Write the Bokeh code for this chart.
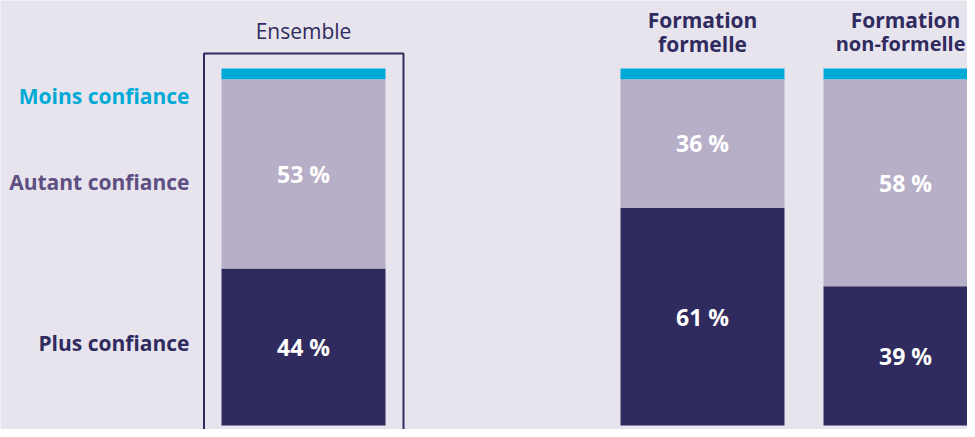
from bokeh.plotting import figure
from bokeh.models import Range1d, ColumnDataSource
from bokeh.core.properties import value
from bokeh.embed import file_html
from bokeh.resources import INLINE

# ---- data ----
groups = ["Ensemble", "Formation formelle", "Formation non-formelle"]
title_line1 = ["Ensemble", "Formation", "Formation"]
title_line2 = ["", "formelle", "non-formelle"]
plus = [44, 61, 39]
autant = [53, 36, 58]
moins = [3, 3, 3]
series_names = ["Plus confiance", "Autant confiance", "Moins confiance"]
label_y = [23.0, 68.3, 92.2]

# ---- style ----
BG = "#e7e4ee"
C_PLUS = "#302b5e"
C_AUTANT = "#b7afc8"
C_MOINS = "#00aad6"
LBL_COLORS = [C_PLUS, "#5e4f82", C_MOINS]
FONT = "Open Sans"

xpos = [303, 702, 905]
bar_w = 164

p = figure(width=967, height=429, output_backend="svg", toolbar_location=None,
           x_range=Range1d(0, 967), y_range=Range1d(-1.12, 119.05),
           min_border=0, border_fill_color=BG, background_fill_color=BG,
           outline_line_color=None)
p.axis.visible = False
p.grid.visible = False

b0 = [0, 0, 0]
b1 = plus
b2 = [a + b for a, b in zip(plus, autant)]
b3 = [a + b for a, b in zip(b2, moins)]

src = ColumnDataSource(dict(x=xpos, b0=b0, b1=b1, b2=b2, b3=b3,
                            plus_lbl=[f"{v} %" for v in plus],
                            autant_lbl=[f"{v} %" for v in autant],
                            plus_mid=[(a + b) / 2 for a, b in zip(b0, b1)],
                            autant_mid=[(a + b) / 2 for a, b in zip(b1, b2)]))

p.vbar(x="x", width=bar_w, bottom="b0", top="b1", source=src, fill_color=C_PLUS, line_color=None)
p.vbar(x="x", width=bar_w, bottom="b1", top="b2", source=src, fill_color=C_AUTANT, line_color=None)
p.vbar(x="x", width=bar_w, bottom="b2", top="b3", source=src, fill_color=C_MOINS, line_color=None)

# highlight frame around Ensemble
p.quad(left=[xpos[0] - 99.5], right=[xpos[0] + 100], bottom=[-10], top=[104.2],
       fill_color=None, line_color=C_PLUS, line_width=2)

# value labels
for ycol, tcol in (("plus_mid", "plus_lbl"), ("autant_mid", "autant_lbl")):
    p.text(x="x", y=ycol, text=tcol, source=src, text_color="white",
           text_font=value(FONT), text_font_style="bold", text_font_size="23px",
           text_align="center", text_baseline="middle")

# column titles
p.text(x=[xpos[0]], y=[110.4], text=[title_line1[0]], text_color=C_PLUS,
       text_font=value(FONT), text_font_size="21px",
       text_align="center", text_baseline="middle")
p.text(x=xpos[1:], y=[113.7, 113.7], text=title_line1[1:], text_color=C_PLUS,
       text_font=value(FONT), text_font_style="bold", text_font_size="21px",
       text_align="center", text_baseline="middle")
p.text(x=[xpos[1]], y=[107.0], text=[title_line2[1]], text_color=C_PLUS,
       text_font=value(FONT), text_font_style="bold", text_font_size="21px",
       text_align="center", text_baseline="middle")
p.text(x=[965], y=[107.0], text=[title_line2[2]], text_color=C_PLUS,
       text_font=value(FONT), text_font_style="bold", text_font_size="20px",
       text_align="right", text_baseline="middle")

# series labels on the left
p.text(x=[189] * 3, y=label_y, text=series_names, text_color=LBL_COLORS,
       text_font=value(FONT), text_font_style="bold", text_font_size="21px",
       text_align="right", text_baseline="middle")

open("out.html", "w").write(file_html(p, INLINE))
